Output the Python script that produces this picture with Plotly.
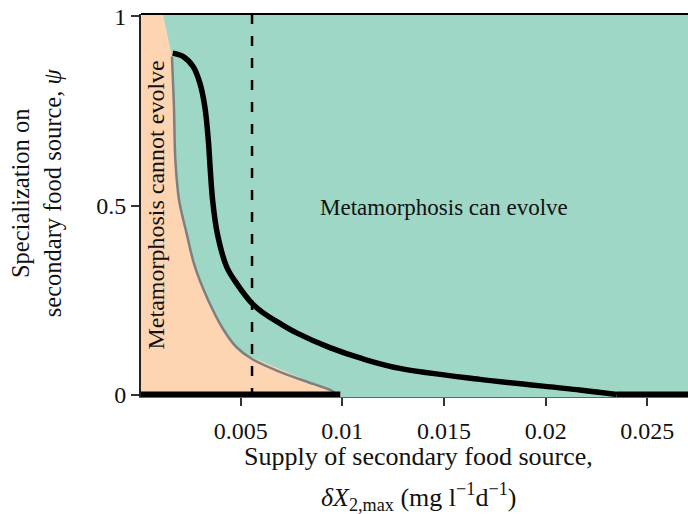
import plotly.graph_objects as go

# Supply of secondary food source (mg l^-1 d^-1) and specialization psi
# Evolutionary trajectory of specialization (thick black curve)
traj_x = [0.00166, 0.00218, 0.00267, 0.00300, 0.00324, 0.00341, 0.00350, 0.00362,
          0.00385, 0.00431, 0.00480, 0.00556, 0.00611, 0.00693, 0.00775, 0.00939,
          0.01103, 0.01283, 0.01677, 0.02168, 0.02350]
traj_y = [0.903, 0.894, 0.867, 0.823, 0.761, 0.673, 0.600, 0.515,
          0.427, 0.338, 0.294, 0.241, 0.216, 0.188, 0.163, 0.124,
          0.094, 0.069, 0.040, 0.012, 0.000]

# Threshold below which metamorphosis cannot evolve (grey curve)
thr_x = [0.00162, 0.00172, 0.00179, 0.00197, 0.00234, 0.00275, 0.00340, 0.00415,
         0.00480, 0.00556, 0.00693, 0.00857, 0.00940, 0.00975]
thr_y = [0.894, 0.761, 0.620, 0.515, 0.427, 0.338, 0.250, 0.172,
         0.125, 0.094, 0.060, 0.028, 0.012, 0.000]

# Outline of the "cannot evolve" region
region_x = [0.0001, 0.00118, 0.00162, 0.00172, 0.00179, 0.00197, 0.00234, 0.00275,
            0.00340, 0.00415, 0.00480, 0.00556, 0.00990, 0.00990, 0.0001]
region_y = [1.0066, 1.0066, 0.894, 0.761, 0.620, 0.515, 0.427, 0.338,
            0.250, 0.172, 0.125, 0.098, 0.000, -0.0066, -0.0066]

# Segments where psi = 0 is the outcome
base_x = [0.0001, 0.0099, None, 0.0235, 0.0270]
base_y = [0.0, 0.0, None, 0.0, 0.0]

# Reference supply level (dashed vertical)
ref_supply = 0.00556

x_ticks = [0.005, 0.01, 0.015, 0.02, 0.025]
x_tick_text = ["0.005", "0.01", "0.015", "0.02", "0.025"]
y_ticks = [0, 0.5, 1]
y_tick_text = ["0", "0.5", "1"]

TEAL = "#9fd7c6"
PEACH = "#fdd5b3"
FONT = "Liberation Serif"

fig = go.Figure()

fig.add_trace(go.Scatter(x=region_x, y=region_y, mode="lines", fill="toself",
                         fillcolor=PEACH, line=dict(width=0), hoverinfo="skip"))
fig.add_trace(go.Scatter(x=thr_x, y=thr_y, mode="lines",
                         line=dict(color="#7f7f7f", width=2.5, shape="spline", smoothing=1.0)))
fig.add_trace(go.Scatter(x=[ref_supply, ref_supply], y=[1.0066, 0], mode="lines",
                         line=dict(color="black", width=2.5, dash="10px,12px")))
fig.add_trace(go.Scatter(x=traj_x, y=traj_y, mode="lines",
                         line=dict(color="black", width=5.5, shape="spline", smoothing=1.0)))
fig.add_trace(go.Scatter(x=base_x, y=base_y, mode="lines",
                         line=dict(color="black", width=6)))

fig.add_annotation(x=0.015, y=0.495, text="Metamorphosis can evolve", showarrow=False,
                   font=dict(family=FONT, size=23, color="#111"))
fig.add_annotation(x=0.00079, y=0.5, text="Metamorphosis cannot evolve", showarrow=False,
                   textangle=-90, font=dict(family=FONT, size=24, color="#111"))

# Axis titles
fig.add_annotation(xref="paper", yref="paper", x=0, xshift=-105, y=0.532,
                   xanchor="center", yanchor="middle",
                   text="Specialization on<br>secondary food source, <i>ψ</i>",
                   showarrow=False, textangle=-90,
                   font=dict(family=FONT, size=24.5, color="#111"))
fig.add_annotation(xref="paper", yref="paper", x=0.508, y=-0.155,
                   xanchor="center", yanchor="middle",
                   text="Supply of secondary food source,",
                   showarrow=False, font=dict(family=FONT, size=26, color="#111"))
fig.add_annotation(xref="paper", yref="paper", x=0.508, y=-0.262,
                   xanchor="center", yanchor="middle",
                   text="<i>δX</i><sub>2,max</sub> (mg l<sup>−1</sup>d<sup>−1</sup>)",
                   showarrow=False, font=dict(family=FONT, size=26, color="#111"))

# Top frame line
fig.add_shape(type="line", xref="paper", yref="paper", x0=0, x1=1, y0=1, y1=1,
              line=dict(color="black", width=2))

fig.update_layout(
    width=688, height=514,
    margin=dict(l=141, r=0, t=14, b=117),
    paper_bgcolor="white", plot_bgcolor=TEAL,
    showlegend=False,
    font=dict(family=FONT, size=24, color="#111"),
    xaxis=dict(range=[0.0001, 0.027], showgrid=False, zeroline=False,
               tickvals=x_ticks, ticktext=x_tick_text, ticks="outside",
               ticklen=8, tickwidth=2, tickcolor="#333", ticklabelstandoff=4,
               showline=True, linecolor="#666", linewidth=1),
    yaxis=dict(range=[-0.0066, 1.0066], showgrid=False, zeroline=False,
               tickvals=y_ticks, ticktext=y_tick_text, ticks="outside",
               ticklen=8, tickwidth=2, tickcolor="#333",
               showline=True, linecolor="#222", linewidth=2),
)

fig.write_html("out.html")
